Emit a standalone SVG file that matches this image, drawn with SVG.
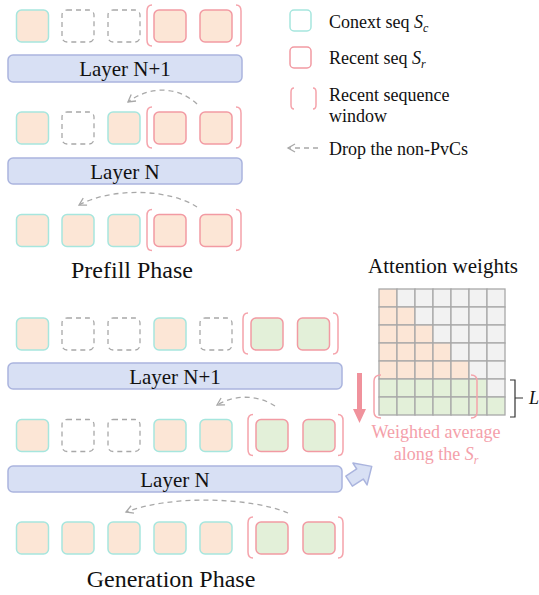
<svg xmlns="http://www.w3.org/2000/svg" width="539" height="595" viewBox="0 0 539 595">
<defs>
<style>
text{font-family:"Liberation Serif","Times New Roman",serif;fill:#111}
.ctx{fill:#fce6d6;stroke:#a6e6de;stroke-width:1.5}
.rec{fill:#fce6d6;stroke:#f29aa3;stroke-width:1.5}
.grn{fill:#e3f0d9;stroke:#f29aa3;stroke-width:1.5}
.emp{fill:none;stroke:#a8a8a8;stroke-width:1.3;stroke-dasharray:5,4}
.brk{fill:none;stroke:#f5a3ab;stroke-width:1.5}
.layer{fill:#d8e0f4;stroke:#aab4de;stroke-width:1.5}
.lt{font-size:21px;text-anchor:middle}
.drop{fill:none;stroke:#a8a8a8;stroke-width:1.3;stroke-dasharray:5,4}
.cg{fill:#f2f2f2;stroke:#a8a8a8;stroke-width:1.3}
.co{fill:#fce6d6;stroke:#a8a8a8;stroke-width:1.3}
.cn{fill:#e3f0d9;stroke:#a8a8a8;stroke-width:1.3}
.leg{font-size:18px}
.pink{fill:#f4a0aa;font-size:18px;text-anchor:middle}
</style>
<marker id="ah" viewBox="0 0 10 10" refX="8" refY="5" markerWidth="10" markerHeight="10" markerUnits="userSpaceOnUse" orient="auto">
<path d="M1,1 L8,5 L1,9" fill="none" stroke="#a8a8a8" stroke-width="1.3" stroke-dasharray="none"/>
</marker>
</defs>
<rect width="539" height="595" fill="#fff"/>

<!-- Prefill phase -->
<g id="prefill-row3">
<rect class="ctx" x="16.5" y="10" width="32" height="32" rx="5"/>
<rect class="emp" x="62" y="10" width="32" height="32" rx="5"/>
<rect class="emp" x="108" y="10" width="32" height="32" rx="5"/>
<rect class="rec" x="154" y="10" width="32" height="32" rx="5"/>
<rect class="rec" x="200" y="10" width="32" height="32" rx="5"/>
<path class="brk" d="M152,5 Q147,5 147,11 V40 Q147,46 152,46"/>
<path class="brk" d="M236,5 Q241,5 241,11 V40 Q241,46 236,46"/>
</g>
<g id="prefill-layerN1">
<rect class="layer" x="8" y="55" width="234" height="27" rx="5"/>
<text class="lt" x="125" y="75.5">Layer N+1</text>
</g>
<g id="prefill-row2">
<rect class="ctx" x="16.5" y="112" width="32" height="32" rx="5"/>
<rect class="emp" x="62" y="112" width="32" height="32" rx="5"/>
<rect class="ctx" x="108" y="112" width="32" height="32" rx="5"/>
<rect class="rec" x="154" y="112" width="32" height="32" rx="5"/>
<rect class="rec" x="200" y="112" width="32" height="32" rx="5"/>
<path class="brk" d="M152,107 Q147,107 147,113 V142 Q147,148 152,148"/>
<path class="brk" d="M236,107 Q241,107 241,113 V142 Q241,148 236,148"/>
</g>
<g id="prefill-layerN">
<rect class="layer" x="8" y="158" width="234" height="26" rx="5"/>
<text class="lt" x="125" y="178.5">Layer N</text>
</g>
<g id="prefill-row1">
<rect class="ctx" x="16.5" y="214.5" width="32" height="32" rx="5"/>
<rect class="ctx" x="62" y="214.5" width="32" height="32" rx="5"/>
<rect class="ctx" x="108" y="214.5" width="32" height="32" rx="5"/>
<rect class="rec" x="154" y="214.5" width="32" height="32" rx="5"/>
<rect class="rec" x="200" y="214.5" width="32" height="32" rx="5"/>
<path class="brk" d="M152,209.5 Q147,209.5 147,215.5 V244.5 Q147,250.5 152,250.5"/>
<path class="brk" d="M236,209.5 Q241,209.5 241,215.5 V244.5 Q241,250.5 236,250.5"/>
</g>
<text id="prefill-title" x="132" y="278" font-size="24" text-anchor="middle">Prefill Phase</text>

<!-- Legend -->
<g id="legend">
<rect x="290" y="10" width="21" height="21" rx="4" fill="none" stroke="#a6e6de" stroke-width="1.5"/>
<text class="leg" x="329" y="28">Conext seq <tspan font-style="italic">S</tspan><tspan font-style="italic" font-size="12" dy="4">c</tspan></text>
<rect x="290" y="47" width="21" height="21" rx="4" fill="none" stroke="#f29aa3" stroke-width="1.5"/>
<text class="leg" x="329" y="64">Recent seq <tspan font-style="italic">S</tspan><tspan font-style="italic" font-size="12" dy="4">r</tspan></text>
<path class="brk" d="M294,88 Q291,88 291,92 V105 Q291,109 294,109"/>
<path class="brk" d="M313,88 Q316,88 316,92 V105 Q316,109 313,109"/>
<text class="leg" x="329" y="101">Recent sequence</text>
<text class="leg" x="329" y="122">window</text>
<path class="drop" d="M318,148 L288,148" marker-end="url(#ah)"/>
<text class="leg" x="329" y="155">Drop the non-PvCs</text>
</g>

<!-- Generation phase -->
<g id="gen-row3">
<rect class="ctx" x="16.5" y="318" width="32" height="32" rx="5"/>
<rect class="emp" x="62" y="318" width="32" height="32" rx="5"/>
<rect class="emp" x="108" y="318" width="32" height="32" rx="5"/>
<rect class="ctx" x="154" y="318" width="32" height="32" rx="5"/>
<rect class="emp" x="200" y="318" width="32" height="32" rx="5"/>
<rect class="grn" x="251" y="318" width="32" height="32" rx="5"/>
<rect class="grn" x="297.5" y="318" width="32" height="32" rx="5"/>
<path class="brk" d="M248,313 Q243,313 243,319 V348 Q243,354 248,354"/>
<path class="brk" d="M333,313 Q338,313 338,319 V348 Q338,354 333,354"/>
</g>
<g id="gen-layerN1">
<rect class="layer" x="8" y="363" width="334" height="26" rx="5"/>
<text class="lt" x="175" y="383.5">Layer N+1</text>
</g>
<g id="gen-row2">
<rect class="ctx" x="16.5" y="419.5" width="32" height="32" rx="5"/>
<rect class="emp" x="62" y="419.5" width="32" height="32" rx="5"/>
<rect class="emp" x="108" y="419.5" width="32" height="32" rx="5"/>
<rect class="ctx" x="154" y="419.5" width="32" height="32" rx="5"/>
<rect class="ctx" x="200" y="419.5" width="32" height="32" rx="5"/>
<rect class="grn" x="256" y="419.5" width="32" height="32" rx="5"/>
<rect class="grn" x="303" y="419.5" width="32" height="32" rx="5"/>
<path class="brk" d="M253,414.5 Q248,414.5 248,420.5 V449.5 Q248,455.5 253,455.5"/>
<path class="brk" d="M338,414.5 Q343,414.5 343,420.5 V449.5 Q343,455.5 338,455.5"/>
</g>
<g id="gen-layerN">
<rect class="layer" x="8" y="466" width="334" height="26" rx="5"/>
<text class="lt" x="175" y="486.5">Layer N</text>
</g>
<g id="gen-row1">
<rect class="ctx" x="16.5" y="522" width="32" height="32" rx="5"/>
<rect class="ctx" x="62" y="522" width="32" height="32" rx="5"/>
<rect class="ctx" x="108" y="522" width="32" height="32" rx="5"/>
<rect class="ctx" x="154" y="522" width="32" height="32" rx="5"/>
<rect class="ctx" x="200" y="522" width="32" height="32" rx="5"/>
<rect class="grn" x="256" y="522" width="32" height="32" rx="5"/>
<rect class="grn" x="303" y="522" width="32" height="32" rx="5"/>
<path class="brk" d="M253,517 Q248,517 248,523 V552 Q248,558 253,558"/>
<path class="brk" d="M338,517 Q343,517 343,523 V552 Q343,558 338,558"/>
</g>
<text id="gen-title" x="171" y="587" font-size="24" text-anchor="middle">Generation Phase</text>

<!-- Connectors -->
<g id="connectors">
<path class="drop" d="M197,104 C180,88 152,84 128,102" marker-end="url(#ah)"/>
<path class="drop" d="M197,207 C170,189 112,187 79,205" marker-end="url(#ah)"/>
<path class="drop" d="M275,406 C258,395 236,394 217,405" marker-end="url(#ah)"/>
<path class="drop" d="M288,513 C250,497 170,495 126,512" marker-end="url(#ah)"/>
<path d="M357,373 H362 V409 H366 L359.5,423 L353,409 H357 Z" fill="#f0929c"/>
<g transform="translate(360,474) rotate(-33)">
<path d="M-13,-6 H0 V-13 L14,0 L0,13 V6 H-13 Z" fill="#d8e0f4" stroke="#aab4de" stroke-width="1.5" stroke-linejoin="round"/>
</g>
</g>

<!-- Attention weights -->
<g id="attention">
<text x="443" y="273" font-size="21" text-anchor="middle">Attention weights</text>
<g>
<rect class="co" x="379" y="289" width="18" height="18"/><rect class="cg" x="397" y="289" width="18" height="18"/><rect class="cg" x="415" y="289" width="18" height="18"/><rect class="cg" x="433" y="289" width="18" height="18"/><rect class="cg" x="451" y="289" width="18" height="18"/><rect class="cg" x="469" y="289" width="18" height="18"/><rect class="cg" x="487" y="289" width="18" height="18"/>
<rect class="co" x="379" y="307" width="18" height="18"/><rect class="co" x="397" y="307" width="18" height="18"/><rect class="cg" x="415" y="307" width="18" height="18"/><rect class="cg" x="433" y="307" width="18" height="18"/><rect class="cg" x="451" y="307" width="18" height="18"/><rect class="cg" x="469" y="307" width="18" height="18"/><rect class="cg" x="487" y="307" width="18" height="18"/>
<rect class="co" x="379" y="325" width="18" height="18"/><rect class="co" x="397" y="325" width="18" height="18"/><rect class="co" x="415" y="325" width="18" height="18"/><rect class="cg" x="433" y="325" width="18" height="18"/><rect class="cg" x="451" y="325" width="18" height="18"/><rect class="cg" x="469" y="325" width="18" height="18"/><rect class="cg" x="487" y="325" width="18" height="18"/>
<rect class="co" x="379" y="343" width="18" height="18"/><rect class="co" x="397" y="343" width="18" height="18"/><rect class="co" x="415" y="343" width="18" height="18"/><rect class="co" x="433" y="343" width="18" height="18"/><rect class="cg" x="451" y="343" width="18" height="18"/><rect class="cg" x="469" y="343" width="18" height="18"/><rect class="cg" x="487" y="343" width="18" height="18"/>
<rect class="co" x="379" y="361" width="18" height="18"/><rect class="co" x="397" y="361" width="18" height="18"/><rect class="co" x="415" y="361" width="18" height="18"/><rect class="co" x="433" y="361" width="18" height="18"/><rect class="co" x="451" y="361" width="18" height="18"/><rect class="cg" x="469" y="361" width="18" height="18"/><rect class="cg" x="487" y="361" width="18" height="18"/>
<rect class="cn" x="379" y="379" width="18" height="18"/><rect class="cn" x="397" y="379" width="18" height="18"/><rect class="cn" x="415" y="379" width="18" height="18"/><rect class="cn" x="433" y="379" width="18" height="18"/><rect class="cn" x="451" y="379" width="18" height="18"/><rect class="cn" x="469" y="379" width="18" height="18"/><rect class="cg" x="487" y="379" width="18" height="18"/>
<rect class="cn" x="379" y="397" width="18" height="18"/><rect class="cn" x="397" y="397" width="18" height="18"/><rect class="cn" x="415" y="397" width="18" height="18"/><rect class="cn" x="433" y="397" width="18" height="18"/><rect class="cn" x="451" y="397" width="18" height="18"/><rect class="cn" x="469" y="397" width="18" height="18"/><rect class="cn" x="487" y="397" width="18" height="18"/>
</g>
<path class="brk" d="M381,375 Q374,375 374,381 V412 Q374,418 381,418"/>
<path class="brk" d="M471,375 Q477,375 477,381 V412 Q477,418 471,418"/>
<path d="M510,380 H515 V417 H510 M515,398 H523" fill="none" stroke="#333" stroke-width="1.2"/>
<text x="529" y="404" font-size="18" font-style="italic">L</text>
<text class="pink" x="436" y="438">Weighted average</text>
<text class="pink" x="436" y="460">along the <tspan font-style="italic">S</tspan><tspan font-style="italic" font-size="12" dy="4">r</tspan></text>
</g>
</svg>
